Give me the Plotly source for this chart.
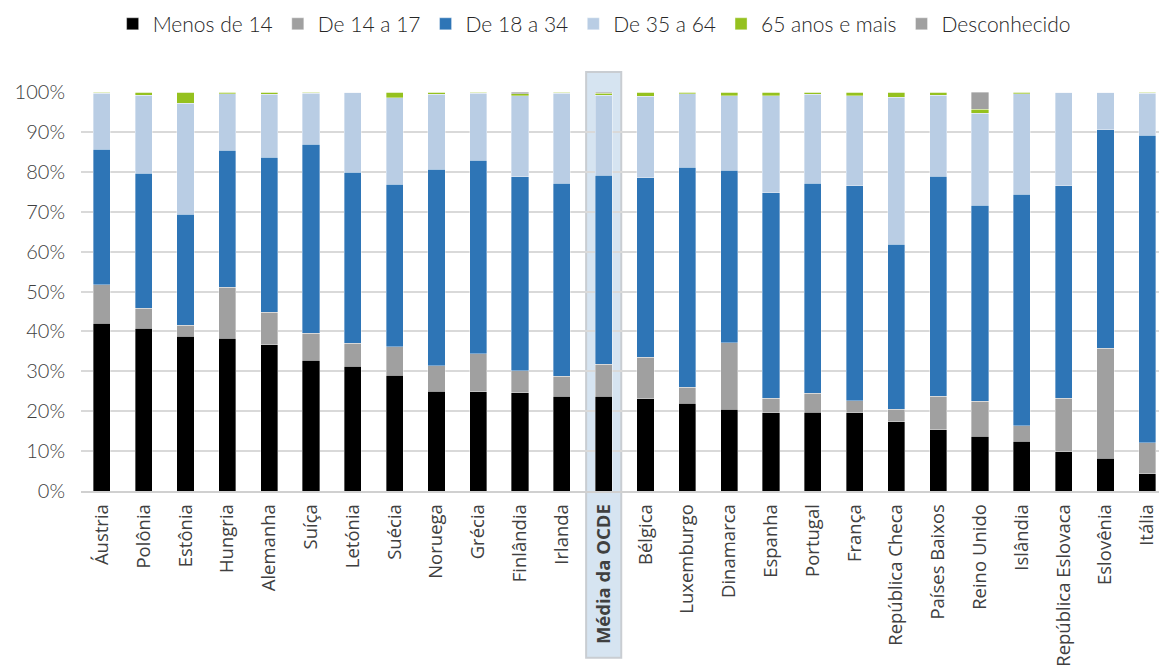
import plotly.graph_objects as go

categories = ["Áustria", "Polônia", "Estônia", "Hungria", "Alemanha", "Suíça", "Letónia",
              "Suécia", "Noruega", "Grécia", "Finlândia", "Irlanda", "<b>Média da OCDE</b>",
              "Bélgica", "Luxemburgo", "Dinamarca", "Espanha", "Portugal", "França",
              "República Checa", "Países Baixos", "Reino Unido", "Islândia",
              "República Eslovaca", "Eslovênia", "Itália"]

menos_14 = [42.1, 40.8, 38.8, 38.3, 36.6, 32.8, 31.3, 29.0, 25.0, 24.9, 24.6, 23.7, 23.7,
            23.1, 22.0, 20.5, 19.6, 19.7, 19.6, 17.4, 15.4, 13.7, 12.5, 9.8, 8.2, 4.3]
de_14_17 = [9.6, 5.0, 2.8, 12.8, 8.2, 6.8, 5.7, 7.2, 6.4, 9.5, 5.6, 5.1, 8.1,
            10.4, 4.0, 16.6, 3.7, 4.8, 3.0, 3.1, 8.4, 8.8, 3.9, 13.4, 27.6, 7.8]
de_18_34 = [33.9, 33.8, 27.8, 34.3, 38.9, 47.3, 42.9, 40.7, 49.2, 48.5, 48.6, 48.3, 47.3,
            45.0, 55.2, 43.3, 51.4, 52.6, 53.9, 41.3, 55.1, 49.1, 58.0, 53.3, 54.8, 77.1]
de_35_64 = [14.1, 19.6, 27.8, 14.2, 15.7, 12.8, 20.1, 21.6, 18.8, 16.8, 20.3, 22.6, 20.1,
            20.4, 18.4, 18.7, 24.3, 22.3, 22.5, 36.9, 20.3, 23.1, 25.2, 23.5, 9.4, 10.5]
mais_65 = [0.3, 0.8, 2.8, 0.4, 0.6, 0.3, 0.0, 1.5, 0.6, 0.3, 0.5, 0.3, 0.5,
           1.1, 0.4, 0.9, 1.0, 0.6, 1.0, 1.3, 0.8, 1.0, 0.4, 0.0, 0.0, 0.3]
desconhecido = [0.0, 0.0, 0.0, 0.0, 0.0, 0.0, 0.0, 0.0, 0.0, 0.0, 0.4, 0.0, 0.3,
                0.0, 0.0, 0.0, 0.0, 0.0, 0.0, 0.0, 0.0, 4.3, 0.0, 0.0, 0.0, 0.0]

series = [
    ("Menos de 14", menos_14, "#000000"),
    ("De 14 a 17", de_14_17, "#a0a0a0"),
    ("De 18 a 34", de_18_34, "#2e75b6"),
    ("De 35 a 64", de_35_64, "#b9cde4"),
    ("65 anos e mais", mais_65, "#95c11f"),
    ("Desconhecido", desconhecido, "#a0a0a0"),
]

fig = go.Figure()
for name, vals, color in series:
    fig.add_trace(go.Bar(
        x=list(range(len(categories))), y=vals, name=name,
        marker=dict(color=color, line=dict(color="rgba(255,255,255,0.6)", width=0.6)),
        width=0.41,
    ))

# highlight box around OECD average
avg_idx = categories.index("<b>Média da OCDE</b>")
fig.add_shape(type="rect", xref="x", yref="paper",
              x0=avg_idx - 0.42, x1=avg_idx + 0.42, y0=-0.418, y1=1.05,
              fillcolor="#d6e4f1", line=dict(color="#c9cdd2", width=2), layer="below")

fig.update_layout(
    barmode="stack",
    width=1159, height=672,
    margin=dict(l=81, r=0, t=92, b=181),
    plot_bgcolor="rgba(0,0,0,0)", paper_bgcolor="white",
    font=dict(family="Lato", color="#404040"),
    legend=dict(orientation="h", x=0.476, xanchor="center", y=1.17, yanchor="middle",
                font=dict(family="Lato", size=21, color="#262626", weight=300),
                traceorder="normal", itemclick=False, bgcolor="rgba(0,0,0,0)"),
    xaxis=dict(range=[-0.5, 25.28], tickmode="array",
               tickvals=list(range(len(categories))), ticktext=categories,
               tickangle=-90, tickfont=dict(family="Open Sans", size=18.5, color="#404040"),
               showgrid=False, showline=True, linecolor="#d0d0d0", linewidth=1.5,
               ticks="", ticklabelstandoff=4),
    yaxis=dict(range=[0, 100], dtick=10, ticksuffix="%",
               tickfont=dict(family="Lato", size=20, color="#404040", weight=300),
               showgrid=True, gridcolor="#d9d9d9", gridwidth=1.5, zeroline=False,
               ticks="", ticklabelstandoff=15),
    showlegend=True,
)

fig.write_html("out.html")
